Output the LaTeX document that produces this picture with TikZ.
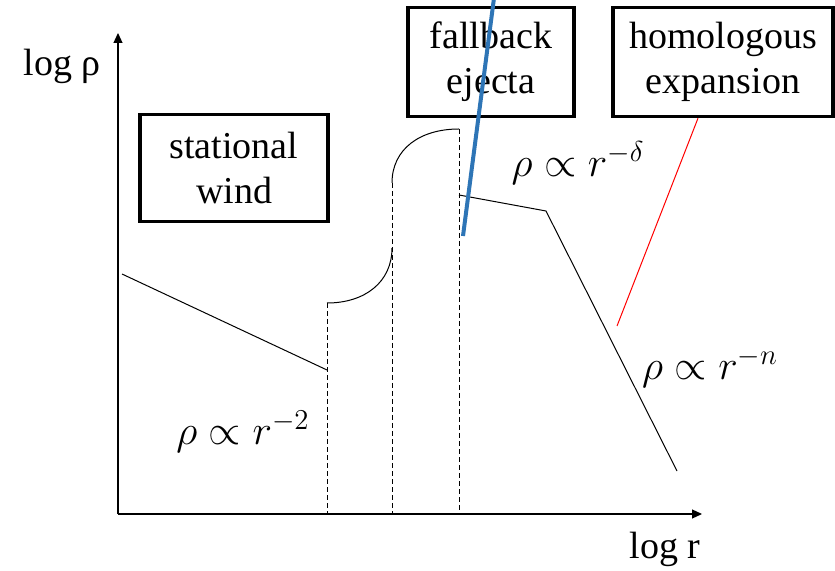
\documentclass[tikz,border=0pt]{standalone}
\usepackage{fontspec}
\setmainfont{Liberation Serif}
\usetikzlibrary{arrows.meta,positioning}
\definecolor{ejblue}{HTML}{2E75B6}

\begin{document}
\begin{tikzpicture}[
x=0.5pt, y=-0.5pt,
font=\fontsize{19}{22.5}\selectfont,
regionbox/.style={draw, line width=1.7pt, align=center, inner sep=2pt},
axis/.style={-{Triangle[length=5pt,width=4.5pt]}, line width=0.6pt},
profile/.style={line width=0.5pt},
guide/.style={dashed, dash pattern=on 2.5pt off 1.5pt, line width=0.5pt},
lawlabel/.style={inner sep=0pt, font=\fontsize{21}{24}\selectfont}
]
\useasboundingbox (0,0) rectangle (835,571);
% axes
\coordinate (origin) at (118,514);
\coordinate (ytop) at (118,33);
\coordinate (xend) at (702,514);
\draw[axis] (origin) -- (ytop);
\draw[axis] (origin) -- (xend);
\node (ylab) at (62,66) {log ρ};
\node (xlab) at (665,549) {log r};
% labelled regions
\node[regionbox, minimum width=94pt, minimum height=53.5pt] (wind) at (234,168) {stational\\wind};
\node[regionbox, minimum width=83pt, minimum height=54.5pt] (fallback) at (491,62) {fallback\\ejecta};
\node[regionbox, minimum width=110pt, minimum height=54.5pt] (homol) at (723,62) {homologous\\expansion};
% density profile
\coordinate (w1) at (122,274);
\coordinate (w2) at (327,370);
\coordinate (c1) at (327,303);
\coordinate (c2) at (392,248);
\coordinate (c3) at (392,183);
\coordinate (c4) at (459,129);
\coordinate (e1) at (459,195);
\coordinate (e2) at (546,211);
\coordinate (e3) at (677,471);
\draw[profile] (w1) -- (w2);
\draw[profile] (c1) .. controls (365,303) and (392,282) .. (c2);
\draw[profile] (c3) .. controls (392,149) and (420,129) .. (c4);
\draw[profile] (e1) -- (e2) -- (e3);
% boundaries
\draw[guide] (c1) -- (origin -| c1);
\draw[guide] (c3) -- (origin -| c3);
\draw[guide] (c4) -- (origin -| c4);
% power laws
\node[lawlabel] (lw) at (243,432) {$\rho\propto r^{-2}$};
\node[lawlabel] (ld) at (578,163) {$\rho\propto r^{-\delta}$};
\node[lawlabel] (ln) at (710,368) {$\rho\propto r^{-n}$};
% markers
\coordinate (bluetop) at (494,-2);
\coordinate (bluebot) at (463,236);
\draw[ejblue, line width=2pt] (bluetop) -- (bluebot);
\coordinate (redend) at (617,326);
\path (homol.south) ++(-25,0) coordinate (redtop);
\draw[red, line width=0.5pt] (redtop) -- (redend);
\end{tikzpicture}
\end{document}
